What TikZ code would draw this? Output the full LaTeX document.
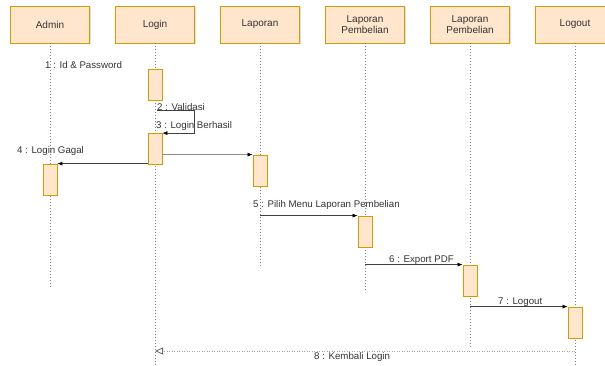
\documentclass[tikz,border=0pt]{standalone}
\usepackage{fontspec}
\setmainfont{Liberation Sans}
\usetikzlibrary{arrows.meta,shadows}
\definecolor{boxfill}{HTML}{FFE6CC}
\definecolor{boxline}{HTML}{D79B00}
\definecolor{ink}{HTML}{333333}
\definecolor{lifegrey}{HTML}{808080}
\begin{document}
\begin{tikzpicture}[x=1pt,y=-1pt,
  head/.style={draw=boxline,fill=boxfill,line width=0.8pt,minimum width=79pt,minimum height=37pt,
    inner sep=1pt,align=center,font=\fontsize{10}{11}\selectfont,text=ink,
    drop shadow={shadow xshift=1.2pt,shadow yshift=-1.2pt,opacity=0.25}},
  act/.style={draw=boxline,fill=boxfill,line width=0.8pt,minimum width=14pt,minimum height=31pt,inner sep=0pt,
    drop shadow={shadow xshift=1pt,shadow yshift=-1pt,opacity=0.25}},
  life/.style={draw=lifegrey,line width=1pt,dash pattern=on 1pt off 2pt},
  msg/.style={draw=black!75,line width=0.6pt,-{Latex[length=5pt,width=4pt,black]}},
  ret/.style={draw=black!35,line width=0.8pt,dash pattern=on 1pt off 1.5pt,
    -{Triangle[open,length=8pt,width=7pt,black!60]}},
  lbl/.style={font=\fontsize{9.7}{11}\selectfont,text=ink,inner sep=0pt,anchor=west}]
\useasboundingbox (0,0) rectangle (605,366);
\begin{scope}
\clip (0,0) rectangle (605,366);
% lifeline heads
\node[head] (adm) at (50,24.5) {Admin};
\node[head] (lgn) at (155,24.5) {Login};
\node[head] (lap) at (260,24.5) {Laporan};
\node[head] (lp1h) at (365,24.5) {Laporan\\Pembelian};
\node[head] (lp2h) at (470,24.5) {Laporan\\Pembelian};
\node[head] (lgo) at (575,24.5) {Logout};
% lifeline ends
\coordinate (admE) at (50,289);
\coordinate (lgnE) at (155,366);
\coordinate (lapE) at (260,268);
\coordinate (lp1E) at (365,292);
\coordinate (lp2E) at (470,347);
\coordinate (lgoE) at (575,366);
\draw[life] (adm.south) -- (admE);
\draw[life] (lgn.south) -- (lgnE);
\draw[life] (lap.south) -- (lapE);
\draw[life] (lp1h.south) -- (lp1E);
\draw[life] (lp2h.south) -- (lp2E);
\draw[life] (lgo.south) -- (lgoE);
% activation bars
\node[act] (lo1) at (155,85) {};
\node[act] (lo2) at (155,149) {};
\node[act] (ad1) at (50,179.5) {};
\node[act] (la1) at (260,170.5) {};
\node[act] (pb1) at (365,231.5) {};
\node[act] (pb2) at (470,280.5) {};
\node[act] (go1) at (575,322.5) {};
% message labels
\node[lbl] (m1) at (45,65) {1 : Id \& Password};
\node[lbl] (m2) at (157,107) {2 : Validasi};
\node[lbl] (m3) at (156,126) {3 : Login Berhasil};
\node[lbl] (m4) at (17,151) {4 : Login Gagal};
\node[lbl] (m5) at (253,205) {5 : Pilih Menu Laporan Pembelian};
\node[lbl] (m6) at (389,260) {6 : Export PDF};
\node[lbl] (m7) at (498,302) {7 : Logout};
\node[lbl] (m8) at (314,357) {8 : Kembali Login};
% messages
\coordinate (s2) at (157,110);
\coordinate (s2r) at (194,110);
\draw[msg] (s2) -- (s2r) |- (lo2.north east);
\draw[msg] (lo2.west |- ad1.north) -- (ad1.north east);
\draw[msg,draw=black!45] (lo2.east |- la1.north) -- (la1.north west);
\draw[msg] (lap.south |- pb1.north) -- (pb1.north west);
\draw[msg] (lp1h.south |- pb2.north) -- (pb2.north west);
\draw[msg] (lp2h.south |- go1.north) -- (go1.north west);
\coordinate (r8) at (575,351);
\draw[ret] (r8) -- (lgn.south |- r8);
\end{scope}
\end{tikzpicture}
\end{document}
